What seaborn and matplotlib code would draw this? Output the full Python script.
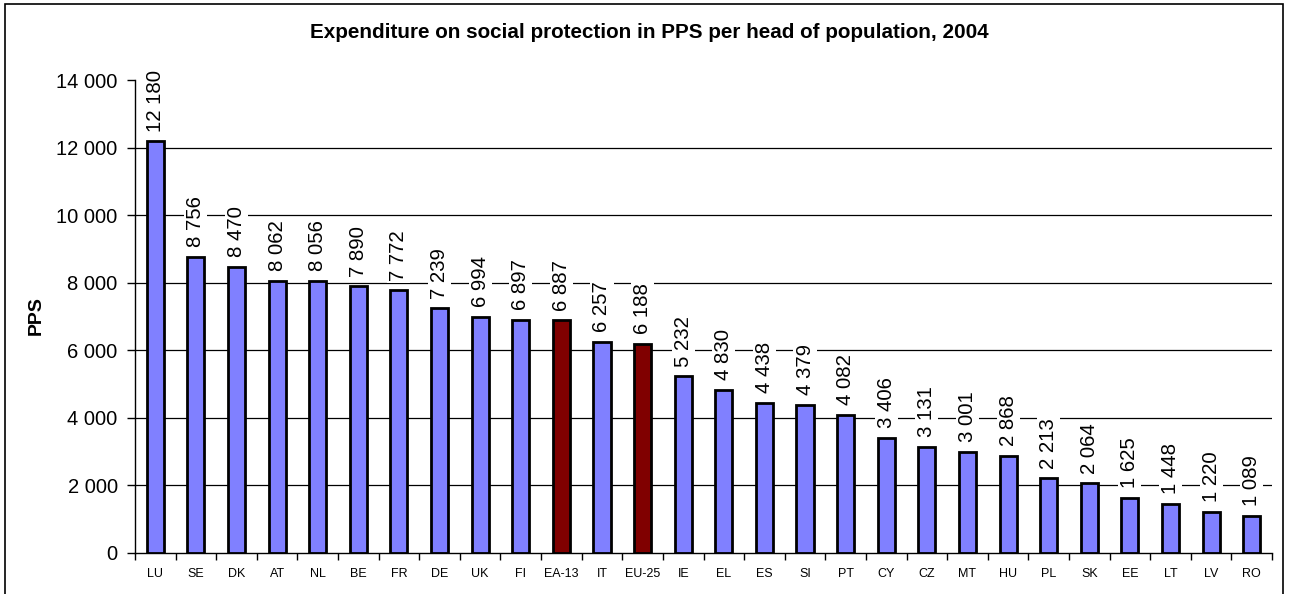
import matplotlib
matplotlib.use("Agg")
import matplotlib.pyplot as plt
import seaborn as sns
import pandas as pd
from matplotlib.ticker import FuncFormatter, FixedLocator
from matplotlib.patches import Rectangle

categories = ["LU", "SE", "DK", "AT", "NL", "BE", "FR", "DE", "UK", "FI", "EA-13", "IT",
              "EU-25", "IE", "EL", "ES", "SI", "PT", "CY", "CZ", "MT", "HU", "PL", "SK",
              "EE", "LT", "LV", "RO"]
values = [12180, 8756, 8470, 8062, 8056, 7890, 7772, 7239, 6994, 6897, 6887, 6257,
          6188, 5232, 4830, 4438, 4379, 4082, 3406, 3131, 3001, 2868, 2213, 2064,
          1625, 1448, 1220, 1089]
aggregates = ["EA-13", "EU-25"]
y_ticks = [0, 2000, 4000, 6000, 8000, 10000, 12000, 14000]

title = "Expenditure on social protection in PPS per head of population, 2004"
ylabel = "PPS"

df = pd.DataFrame({"cat": categories, "val": values})
df["grp"] = ["agg" if c in aggregates else "country" for c in categories]

sns.set_theme(style="white")
plt.rcParams["font.family"] = ["Liberation Sans", "DejaVu Sans"]
plt.rcParams["text.color"] = "black"
plt.rcParams["xtick.color"] = "black"
plt.rcParams["ytick.color"] = "black"
plt.rcParams["axes.labelcolor"] = "black"

fig = plt.figure(figsize=(12.93, 5.94), dpi=100)
ax = fig.add_axes([135 / 1293, 1 - 553 / 594, (1272 - 135) / 1293, (553 - 80) / 594])

sns.barplot(data=df, x="cat", y="val", hue="grp", order=categories,
            palette={"country": "#8080FF", "agg": "#800000"}, dodge=False,
            saturation=1, width=0.42, edgecolor="black", linewidth=2.0,
            legend=False, ax=ax, zorder=3)

def fmt(v):
    return f"{int(v):,}".replace(",", " ")

ax.set_ylim(0, 14000)
ax.set_xlim(-0.5, len(categories) - 0.5)
ax.yaxis.set_major_locator(FixedLocator(y_ticks))
ax.yaxis.set_major_formatter(FuncFormatter(lambda v, p: fmt(v)))
for t in y_ticks[1:-1]:
    ax.axhline(t, color="black", linewidth=0.9, zorder=0)

for i, v in enumerate(values):
    ax.annotate(fmt(v), (i, v), xytext=(0, 7), textcoords="offset points",
                rotation=90, ha="center", va="bottom", fontsize=14.7,
                bbox=dict(fc="white", ec="none", pad=1.5), zorder=4)

ax.set_xticks(range(len(categories)))
ax.set_xticklabels(categories, fontsize=9)
ax.set_xticks([i - 0.5 for i in range(len(categories) + 1)], minor=True)
ax.tick_params(axis="x", which="major", length=0, pad=11)
ax.tick_params(axis="x", which="minor", length=5, width=1, color="black", direction="out", bottom=True)
ax.tick_params(axis="y", which="major", length=6, width=1, color="black", direction="out",
               left=True, labelsize=14.5, pad=6.5)

for s in ["top", "right"]:
    ax.spines[s].set_visible(False)
for s in ["left", "bottom"]:
    ax.spines[s].set_color("black")
    ax.spines[s].set_linewidth(1.0)

ax.set_xlabel("")
ax.set_ylabel(ylabel, fontsize=14, fontweight="bold")
ax.yaxis.set_label_coords(36 / 1293, 1 - 316 / 594, transform=fig.transFigure)
ax.yaxis.label.set_verticalalignment("center")
fig.text(649 / 1293, 1 - 33 / 594, title, ha="center", va="center",
         fontsize=14.9, fontweight="bold")

fig.patches.append(Rectangle((5 / 1293, -0.05), (1283 - 5) / 1293, 1.05 - 4 / 594,
                             transform=fig.transFigure, fill=False, ec="black", lw=1.2))

fig.savefig("out.png", dpi=100)
